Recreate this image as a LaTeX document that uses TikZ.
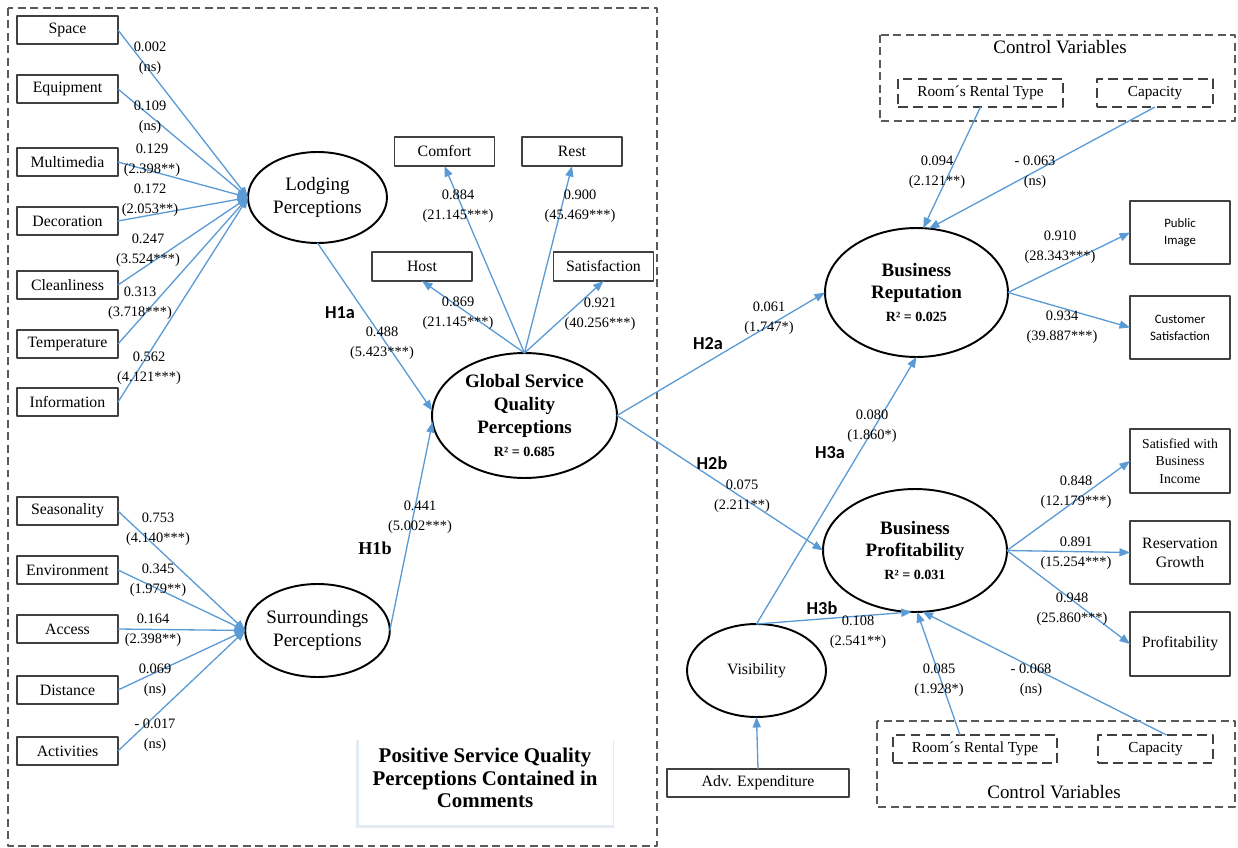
\documentclass[tikz,border=0pt]{standalone}
\usepackage{fontspec}
\setmainfont{Liberation Serif}
\newfontfamily\hsans{Carlito}
\usetikzlibrary{arrows.meta,shapes.geometric}
\definecolor{linkblue}{HTML}{5B9BD5}
\definecolor{boxgray}{HTML}{404040}
\definecolor{dashgray}{HTML}{5A5A5A}
\definecolor{shadowc}{HTML}{E3EBF4}

\begin{document}
\begin{tikzpicture}[x=0.02cm,y=-0.02cm,line join=round,
  every node/.style={inner sep=0pt,outer sep=0pt},
  ind/.style={draw=boxgray,line width=0.7pt,fill=white,align=center,font=\fontsize{9}{11}\selectfont},
  lat/.style={ellipse,draw=black,line width=1.1pt,fill=white,align=center,font=\fontsize{10.8}{13}\selectfont},
  latb/.style={lat,font=\fontsize{10.8}{13}\selectfont\bfseries},
  ctrl/.style={draw=boxgray,line width=0.8pt,dash pattern=on 5.5pt off 3pt,align=center,font=\fontsize{8.7}{11}\selectfont},
  group/.style={draw=dashgray,line width=0.7pt,dash pattern=on 4.5pt off 2.6pt},
  coef/.style={align=center,font=\fontsize{8.2}{11.2}\selectfont},
  hyp/.style={font=\hsans\bfseries\fontsize{10.4}{12}\selectfont},
  link/.style={draw=linkblue,line width=0.75pt,-{Triangle[length=6pt,width=4.6pt]}},
]
\useasboundingbox (0,0) rectangle (1238,848);

% ---------- grouping frames ----------
\draw[group] (8,8) rectangle (657,846);
\draw[group] (880,35) rectangle (1235,121);
\draw[group] (877,721) rectangle (1235,807);

% ---------- title panel ----------
\fill[shadowc] (356,740) rectangle (614,828);
\node[fill=white,minimum width=5.1cm,minimum height=1.76cm] (panel) at (486,781) {};
\node[align=center,font=\fontsize{11.9}{12.8}\selectfont\bfseries] (title) at (485,778)
  {Positive Service Quality\\Perceptions Contained in\\Comments};

% ---------- lodging indicators ----------
\begin{scope}[every node/.append style={ind,minimum width=2.02cm,minimum height=0.56cm}]
\node (space) at (67.5,30) {Space};
\node (equip) at (67.5,89) {Equipment};
\node (multi) at (67.5,162) {Multimedia};
\node (decor) at (67.5,221) {Decoration};
\node (clean) at (67.5,285) {Cleanliness};
\node (temp)  at (67.5,344) {Temperature};
\node (info)  at (67.5,402) {Information};
% surroundings indicators
\node (season) at (67.5,511) {Seasonality};
\node (envir)  at (67.5,570) {Environment};
\node (access) at (67.5,629) {Access};
\node (dist)   at (67.5,690) {Distance};
\node (activ)  at (67.5,751) {Activities};
\end{scope}

% ---------- global quality indicators ----------
\begin{scope}[every node/.append style={ind,minimum width=2.0cm,minimum height=0.58cm}]
\node (comfort) at (444.5,151.5) {Comfort};
\node (rest)    at (572,151.5) {Rest};
\node (host)    at (422,266.5) {Host};
\node (satis)   at (603.5,266.5) {Satisfaction};
\end{scope}

% ---------- latent constructs ----------
\node[lat,minimum width=2.78cm,minimum height=1.82cm] (lodging) at (317.5,197.5) {Lodging\\Perceptions};
\node[lat,minimum width=2.78cm,minimum height=1.86cm] (surround) at (317.5,630.5) {Surroundings\\Perceptions};
\node[latb,minimum width=3.7cm,minimum height=2.5cm] (global) at (524.5,415.5)
  {Global Service\\Quality\\Perceptions\\{\fontsize{8}{13}\selectfont R² = 0.685}};
\node[latb,minimum width=3.66cm,minimum height=2.58cm] (reput) at (916.5,292.5)
  {Business\\Reputation\\{\fontsize{8}{13}\selectfont R² = 0.025}};
\node[latb,minimum width=3.68cm,minimum height=2.46cm] (profit) at (915,550.5)
  {Business\\Profitability\\{\fontsize{8}{13}\selectfont R² = 0.031}};
\node[lat,minimum width=2.78cm,minimum height=1.86cm,font=\fontsize{9}{11}\selectfont] (visib) at (756.5,670.5) {Visibility};

% ---------- outcome indicators ----------
\node[ind,minimum width=2.0cm,minimum height=1.26cm,font=\hsans\fontsize{7.3}{9.6}\selectfont] (pubimg) at (1180,232.5) {Public\\Image};
\node[ind,minimum width=2.0cm,minimum height=1.26cm,font=\hsans\fontsize{7.3}{9.6}\selectfont] (custsat) at (1180,327.5) {Customer\\Satisfaction};
\node[ind,minimum width=2.0cm,minimum height=1.28cm,font=\fontsize{7.8}{9.9}\selectfont] (income) at (1180,461) {Satisfied with\\Business\\Income};
\node[ind,minimum width=2.0cm,minimum height=1.26cm,font=\fontsize{9}{10.8}\selectfont] (resgrow) at (1180,552.5) {Reservation\\Growth};
\node[ind,minimum width=2.0cm,minimum height=1.28cm] (profbox) at (1180,644) {Profitability};
\node[ind,minimum width=3.64cm,minimum height=0.56cm] (advexp) at (758,783) {Adv. Expenditure};

% ---------- control variables ----------
\node[font=\fontsize{10.8}{13}\selectfont] (ctrltop) at (1060,47) {Control Variables};
\node[ctrl,minimum width=3.3cm,minimum height=0.56cm] (roomtop) at (980.5,93) {Room´s Rental Type};
\node[ctrl,minimum width=2.32cm,minimum height=0.56cm] (captop) at (1155,93) {Capacity};
\node[font=\fontsize{10.8}{13}\selectfont] (ctrlbot) at (1054,792) {Control Variables};
\node[ctrl,minimum width=3.28cm,minimum height=0.56cm] (roombot) at (975,749) {Room´s Rental Type};
\node[ctrl,minimum width=2.3cm,minimum height=0.56cm] (capbot) at (1155.5,749) {Capacity};

% ---------- paths ----------
\foreach \s in {space,equip,multi,decor,clean,temp,info}
  \draw[link] (\s.east) -- (lodging.west);
\foreach \s in {season,envir,access,dist,activ}
  \draw[link] (\s.east) -- (surround.west);
\draw[link] (lodging.south) -- (global.177);
\draw[link] (surround.east) -- (global.184);
\draw[link] (global.north) -- (comfort.south);
\draw[link] (global.north) -- (rest.south);
\draw[link] (global.north) -- (host.south);
\draw[link] (global.north) -- (satis.south);
\draw[link] (global.east) -- (reput.west);
\draw[link] (global.east) -- (profit.west);
\draw[link] (reput.east) -- (pubimg.west);
\draw[link] (reput.east) -- (custsat.west);
\draw[link] (profit.east) -- (income.west);
\draw[link] (profit.east) -- (resgrow.west);
\draw[link] (profit.east) -- (profbox.west);
\draw[link] (roomtop.south) -- (reput.84);
\draw[link] (captop.south) -- (reput.79);
\draw[link] (visib.north) -- (reput.south);
\draw[link] (visib.north) -- (profit.267);
\draw[link] ([xshift=-0.3cm]roombot.north) -- (profit.272);
\draw[link] ([xshift=0.22cm]capbot.north) -- (profit.277);
\draw[link] (advexp.north) -- (visib.south);

% ---------- path coefficients ----------
\node[coef] (c1) at (150,58) {0.002\\(ns)};
\node[coef] (c2) at (150,117) {0.109\\(ns)};
\node[coef] (c3) at (152,160) {0.129\\(2.398**)};
\node[coef] (c4) at (150,200) {0.172\\(2.053**)};
\node[coef] (c5) at (148,250) {0.247\\(3.524***)};
\node[coef] (c6) at (140,303) {0.313\\(3.718***)};
\node[coef] (c7) at (149,368) {0.562\\(4.121***)};
\node[coef] (c8) at (158,529) {0.753\\(4.140***)};
\node[coef] (c9) at (158,580) {0.345\\(1.979**)};
\node[coef] (c10) at (153,630) {0.164\\(2.398**)};
\node[coef] (c11) at (155,680) {0.069\\(ns)};
\node[coef] (c12) at (155,735) {- 0.017\\(ns)};
\node[coef] (c13) at (382,343) {0.488\\(5.423***)};
\node[coef] (c14) at (420,517) {0.441\\(5.002***)};
\node[coef] (c15) at (458,206) {0.884\\(21.145***)};
\node[coef] (c16) at (580,206) {0.900\\(45.469***)};
\node[coef] (c17) at (458,313) {0.869\\(21.145***)};
\node[coef] (c18) at (600,314) {0.921\\(40.256***)};
\node[coef] (c19) at (769,318) {0.061\\(1.747*)};
\node[coef] (c20) at (742,496) {0.075\\(2.211**)};
\node[coef] (c21) at (872,426) {0.080\\(1.860*)};
\node[coef] (c22) at (858,632) {0.108\\(2.541**)};
\node[coef] (c23) at (937,172) {0.094\\(2.121**)};
\node[coef] (c24) at (1035,172) {- 0.063\\(ns)};
\node[coef] (c25) at (1060,247) {0.910\\(28.343***)};
\node[coef] (c26) at (1062,327) {0.934\\(39.887***)};
\node[coef] (c27) at (1076,492) {0.848\\(12.179***)};
\node[coef] (c28) at (1076,553) {0.891\\(15.254***)};
\node[coef] (c29) at (1072,609) {0.948\\(25.860***)};
\node[coef] (c30) at (939,680) {0.085\\(1.928*)};
\node[coef] (c31) at (1031,680) {- 0.068\\(ns)};

% ---------- hypothesis tags ----------
\node[hyp] (h1a) at (340,313) {H1a};
\node[font=\fontsize{10.3}{12}\selectfont\bfseries] (h1b) at (375,548) {H1b};
\node[hyp] (h2a) at (708,344) {H2a};
\node[hyp] (h2b) at (712,463) {H2b};
\node[hyp] (h3a) at (830,453) {H3a};
\node[hyp] (h3b) at (822,608) {H3b};
\end{tikzpicture}
\end{document}
